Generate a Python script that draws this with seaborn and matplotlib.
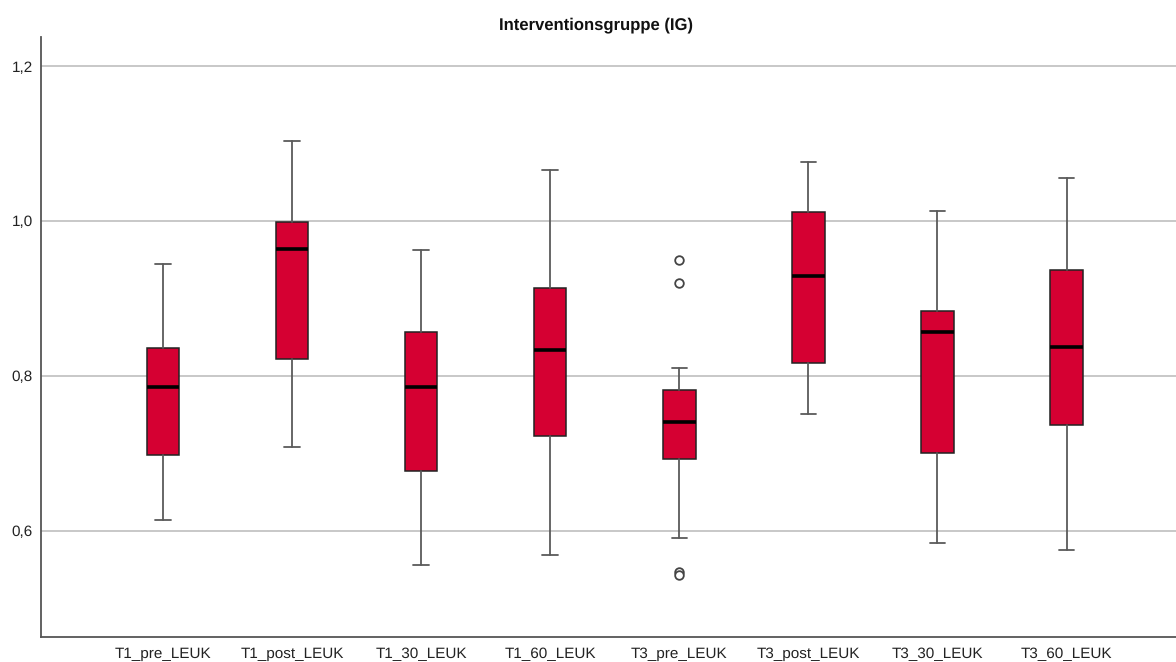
import matplotlib
matplotlib.use("Agg")
import matplotlib.pyplot as plt
import matplotlib.transforms as mtransforms
import seaborn as sns

# Five-number summaries per measurement (whisker ends, quartiles, median)
categories = ["T1_pre_LEUK", "T1_post_LEUK", "T1_30_LEUK", "T1_60_LEUK",
              "T3_pre_LEUK", "T3_post_LEUK", "T3_30_LEUK", "T3_60_LEUK"]
whisker_low = [0.613, 0.708, 0.555, 0.568, 0.591, 0.751, 0.584, 0.575]
q1 = [0.697, 0.822, 0.677, 0.722, 0.692, 0.816, 0.700, 0.736]
median = [0.785, 0.964, 0.785, 0.833, 0.740, 0.929, 0.856, 0.837]
q3 = [0.836, 0.999, 0.857, 0.914, 0.782, 1.012, 0.884, 0.937]
whisker_high = [0.944, 1.104, 0.962, 1.066, 0.810, 1.076, 1.013, 1.056]
outliers = [[], [], [], [], [0.950, 0.920, 0.546, 0.543], [], [], []]

y_ticks = [0.6, 0.8, 1.0, 1.2]
y_tick_labels = ["0,6", "0,8", "1,0", "1,2"]

sns.set_theme(style="white")
plt.rcParams["font.family"] = ["Liberation Sans", "DejaVu Sans"]
plt.rcParams["text.hinting"] = "no_hinting"

fig = plt.figure(figsize=(11.76, 6.62), dpi=100)
ax = fig.add_axes([41 / 1176, 1 - 637 / 662, 1 - 41 / 1176, (637 - 37) / 662])

stats = []
for i, name in enumerate(categories):
    stats.append(dict(label=name, whislo=whisker_low[i], q1=q1[i], med=median[i],
                      q3=q3[i], whishi=whisker_high[i], fliers=outliers[i]))

ax.bxp(stats, positions=range(len(categories)), widths=0.252,
       patch_artist=True, showfliers=True,
       boxprops=dict(facecolor="#d50032", edgecolor="#222222", linewidth=1.1),
       medianprops=dict(color="#000000", linewidth=2.6, solid_capstyle="butt"),
       whiskerprops=dict(color="#5a5a5a", linewidth=1.3),
       capprops=dict(color="#5a5a5a", linewidth=1.3),
       capwidths=0.12,
       flierprops=dict(marker="o", markersize=6.2, markerfacecolor="white",
                       markeredgecolor="#444444", markeredgewidth=1.3),
       zorder=3)

ax.set_xlim(-0.945, 7.848)
ax.set_ylim(0.4624, 1.2379)
ax.set_yticks(y_ticks)
ax.set_yticklabels(y_tick_labels)
ax.set_xticks(range(len(categories)))
ax.set_xticklabels([])
ax.tick_params(axis="both", length=0, labelsize=11, colors="#222222")
ax.tick_params(axis="y", pad=6)

# Category names set on a common baseline below the axis
label_offset = mtransforms.offset_copy(ax.get_xaxis_transform(), fig=fig,
                                       y=-21.2, units="dots")
for i, name in enumerate(categories):
    ax.text(i, 0, name, transform=label_offset, ha="center", va="baseline",
            fontsize=11, color="#222222", clip_on=False)

ax.yaxis.grid(True, color="#c8c8c8", linewidth=1.4)
ax.xaxis.grid(False)
ax.set_axisbelow(True)

for side in ["top", "right"]:
    ax.spines[side].set_visible(False)
for side in ["left", "bottom"]:
    ax.spines[side].set_color("#555555")
    ax.spines[side].set_linewidth(1.3)

fig.text(596 / 1176, 1 - 25 / 662, "Interventionsgruppe (IG)",
         ha="center", va="center", fontsize=12, fontweight="bold", color="#111111")

fig.savefig("out.png", dpi=100, facecolor="white")
